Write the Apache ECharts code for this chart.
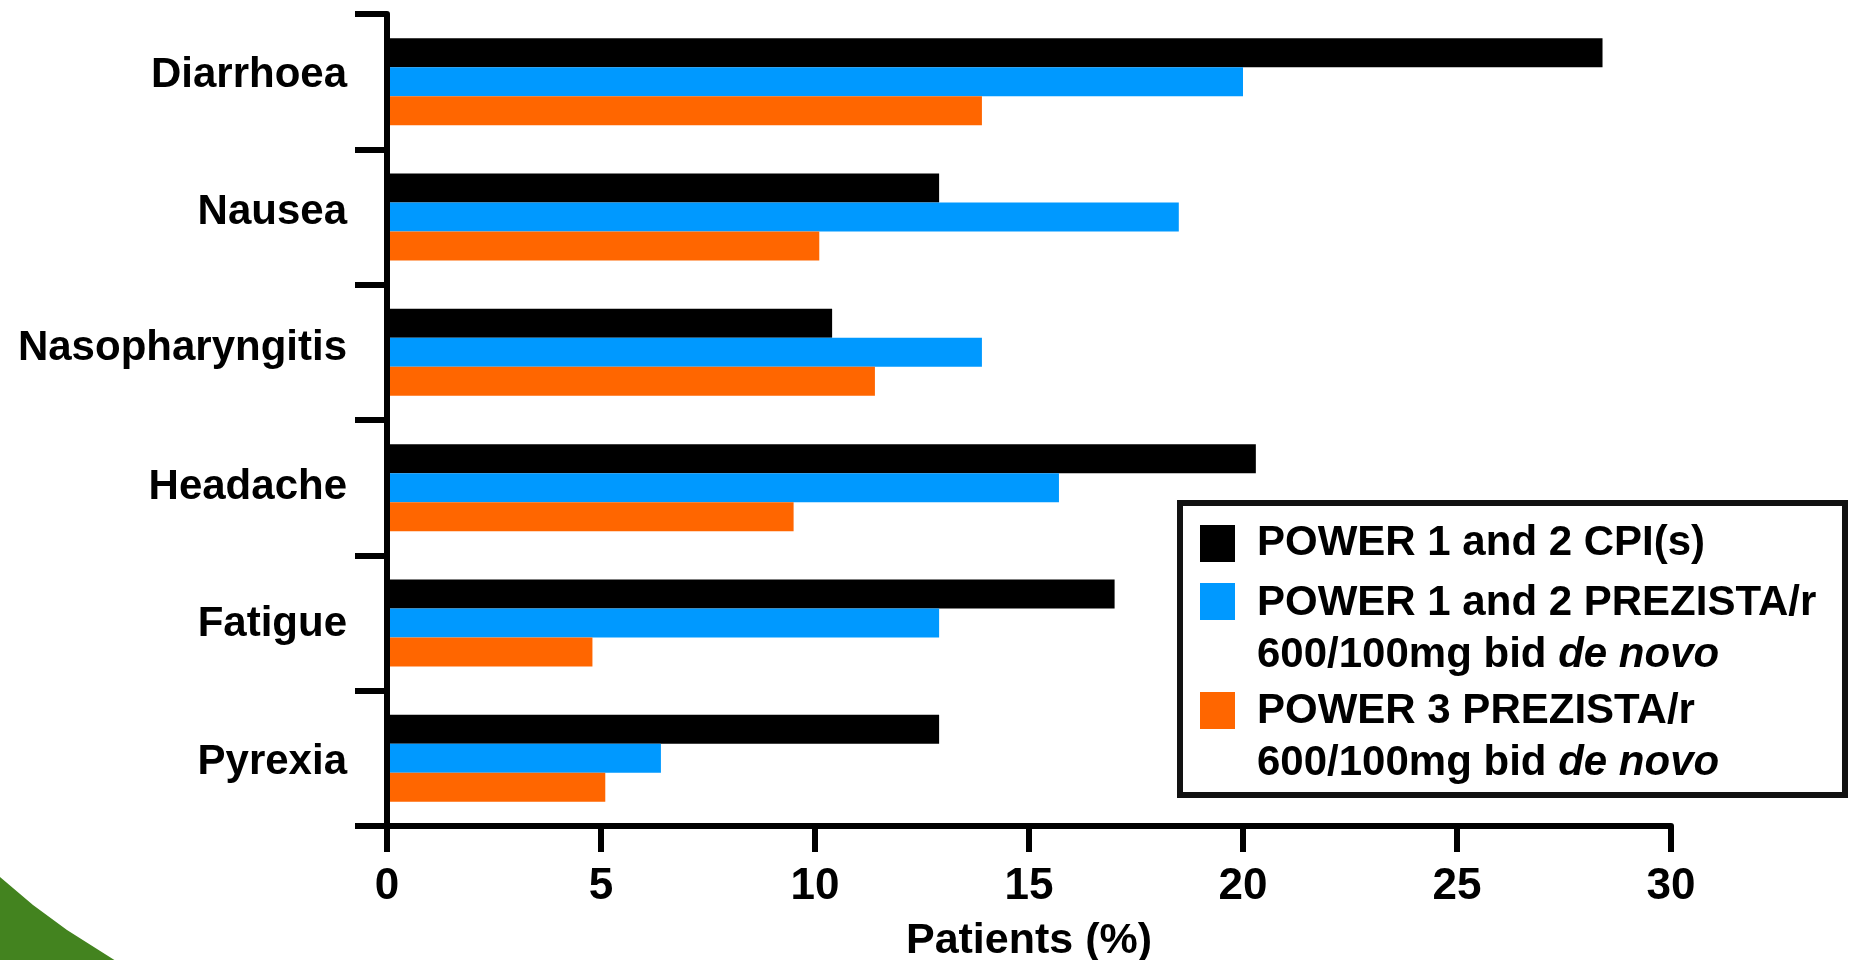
<!DOCTYPE html>
<html>
<head>
<meta charset="utf-8">
<script src="https://cdn.jsdelivr.net/npm/echarts@6/dist/echarts.min.js"></script>
<style>
html, body { margin: 0; padding: 0; background: #fff; }
#chart { width: 1850px; height: 960px; }
</style>
</head>
<body>
<div id="chart"></div>
<script>
const categories = ['Diarrhoea', 'Nausea', 'Nasopharyngitis', 'Headache', 'Fatigue', 'Pyrexia'];
const seriesNames = [
  'POWER 1 and 2 CPI(s)',
  'POWER 1 and 2 PREZISTA/r 600/100mg bid de novo',
  'POWER 3 PREZISTA/r 600/100mg bid de novo'
];
const cpiValues = [28.4, 12.9, 10.4, 20.3, 17.0, 12.9];
const prezista12Values = [20.0, 18.5, 13.9, 15.7, 12.9, 6.4];
const prezista3Values = [13.9, 10.1, 11.4, 9.5, 4.8, 5.1];
const xTicks = [0, 5, 10, 15, 20, 25, 30];
const seriesColors = ['#000000', '#0099FF', '#FF6600'];

const FONT = "'Liberation Sans', Arial, Helvetica, sans-serif";
// small per-label vertical nudges (px, positive = up) to follow the reference's label placement
const labelNudge = [6, 5, 4, 0, -1, -4];

const chart = echarts.init(document.getElementById('chart'), null, { renderer: 'canvas' });

const legendRich = {
  b: { fontFamily: FONT, fontWeight: 'bold', fontSize: 42, lineHeight: 52, color: '#000' },
  i: { fontFamily: FONT, fontWeight: 'bold', fontStyle: 'italic', fontSize: 42, lineHeight: 52, color: '#000' }
};
const legendLabels = {};
legendLabels[seriesNames[0]] = '{b|POWER 1 and 2 CPI(s)}';
legendLabels[seriesNames[1]] = '{b|POWER 1 and 2 PREZISTA/r}\n{b|600/100mg bid }{i|de novo}';
legendLabels[seriesNames[2]] = '{b|POWER 3 PREZISTA/r}\n{b|600/100mg bid }{i|de novo}';

function makeLegend(idx, top, pad) {
  return {
    data: [seriesNames[idx]],
    left: 1200,
    top: top,
    padding: 0,
    icon: 'rect',
    itemWidth: 35,
    itemHeight: 37,
    selectedMode: false,
    formatter: function (name) { return legendLabels[name]; },
    textStyle: {
      fontFamily: FONT, fontWeight: 'bold', fontSize: 42, lineHeight: 52, color: '#000',
      padding: pad,
      rich: legendRich
    }
  };
}

const yLabelRich = {};
labelNudge.forEach(function (n, i) {
  yLabelRich['c' + i] = {
    fontFamily: FONT, fontWeight: 'bold', fontSize: 42, color: '#000',
    padding: n >= 0 ? [0, 0, 2 * n, 0] : [-2 * n, 0, 0, 0]
  };
});

const valueLists = [cpiValues, prezista12Values, prezista3Values];

const option = {
  backgroundColor: '#ffffff',
  animation: false,
  grid: { left: 387, right: 179, top: 14, bottom: 134, containLabel: false, outerBoundsMode: 'none' },
  legend: [
    makeLegend(0, 517.5, [0, 0, 0, 17]),
    makeLegend(1, 521.5, [56, 0, 0, 17]),
    makeLegend(2, 631.5, [54, 0, 0, 17])
  ],
  xAxis: {
    type: 'value',
    min: 0,
    max: 30,
    interval: 5,
    name: 'Patients (%)',
    nameLocation: 'middle',
    nameGap: 94,
    nameTextStyle: { fontFamily: FONT, fontWeight: 'bold', fontSize: 43, color: '#000' },
    z: 10,
    axisLine: { show: true, lineStyle: { color: '#000', width: 6 } },
    axisTick: { show: true, length: 26, lineStyle: { color: '#000', width: 6 } },
    axisLabel: {
      fontFamily: FONT, fontWeight: 'bold', fontSize: 44, color: '#000', margin: 39,
      formatter: function (v) { return xTicks.indexOf(v) >= 0 ? String(v) : ''; }
    },
    splitLine: { show: false }
  },
  yAxis: {
    type: 'category',
    data: categories,
    inverse: true,
    z: 10,
    axisLine: { show: true, lineStyle: { color: '#000', width: 6 } },
    axisTick: { show: true, length: 32, alignWithLabel: false, lineStyle: { color: '#000', width: 6 } },
    axisLabel: {
      fontFamily: FONT, fontWeight: 'bold', fontSize: 42, color: '#000', margin: 40,
      formatter: function (value, index) { return '{c' + index + '|' + value + '}'; },
      rich: yLabelRich
    },
    splitLine: { show: false }
  },
  series: seriesNames.map(function (name, i) {
    return {
      name: name,
      type: 'bar',
      data: valueLists[i],
      barWidth: 29,
      barGap: '0%',
      itemStyle: { color: seriesColors[i] },
      emphasis: { disabled: true }
    };
  }),
  graphic: [
    {
      type: 'rect',
      shape: { x: 1180, y: 503, width: 665, height: 292 },
      style: { fill: 'none', stroke: '#111', lineWidth: 6 },
      z: 5
    },
    {
      type: 'polygon',
      shape: { points: [[0, 877], [33, 905], [67, 930], [116, 961], [0, 961]] },
      style: { fill: '#43831F' },
      z: 1
    }
  ]
};
chart.setOption(option);
</script>
</body>
</html>
